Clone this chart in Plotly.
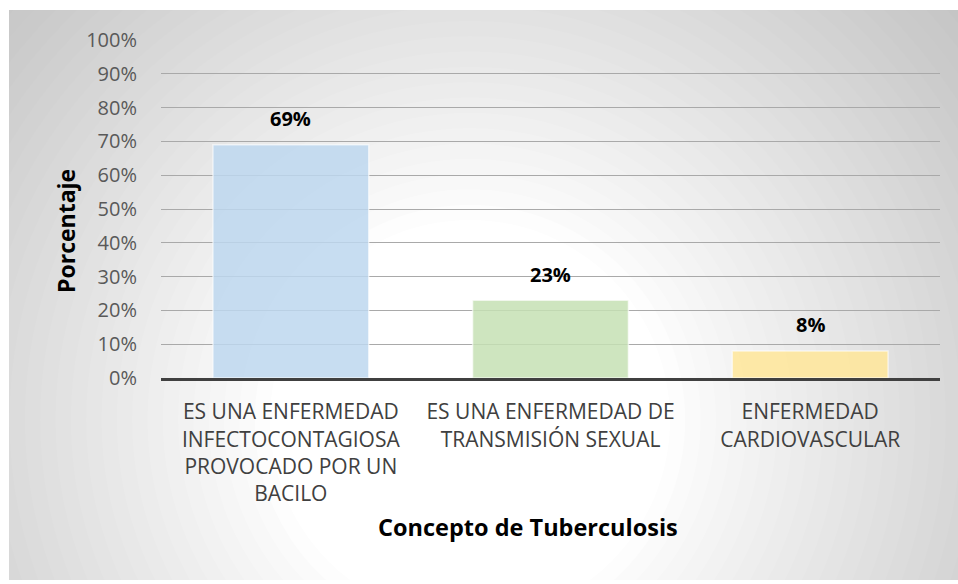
import plotly.graph_objs as go

categorias = [
    'ES UNA ENFERMEDAD<br>INFECTOCONTAGIOSA<br>PROVOCADO POR UN<br>BACILO',
    'ES UNA ENFERMEDAD DE<br>TRANSMISIÓN SEXUAL',
    'ENFERMEDAD<br>CARDIOVASCULAR',
]
porcentajes = [0.69, 0.23, 0.08]
etiquetas = ['69%', '23%', '8%']
colores = ['rgba(189,215,238,0.85)', 'rgba(197,224,180,0.85)', 'rgba(255,230,153,0.85)']

titulo_x = 'Concepto de Tuberculosis'
titulo_y = 'Porcentaje'

# a few px short of the window height so the page never needs a scrollbar
W, H = 958, 580
L, R, T, B = 161, 18, 40, 202
FONT = 'Open Sans'


def px(x):
    # screen pixel -> paper
    return (x - L) / (W - L - R)


def py(y):
    return (H - B - y) / (H - T - B)


def _fondo():
    # gray box with a rough radial light spot (stacked white circles)
    shapes = [dict(
        type='rect', xref='paper', yref='paper', layer='below',
        x0=px(9), x1=px(960), y0=py(582), y1=py(10),
        fillcolor='rgb(195,195,195)', line_width=0
    )]
    cx, cy = px(470), py(420)
    n = 30
    r_out, r_in = 660, 200
    g_out, g_in = 195.0, 255.0
    prev = g_out
    for k in range(1, n + 1):
        r = r_out - (r_out - r_in) * k / n
        g = g_out + (g_in - g_out) * k / n
        a = (g - prev) / (255.0 - prev) if prev < 255 else 0
        prev = g
        shapes.append(dict(
            type='circle', layer='below', xref='paper', yref='paper',
            xsizemode='pixel', ysizemode='pixel',
            xanchor=cx, yanchor=cy, x0=-r, x1=r, y0=-r, y1=r,
            fillcolor='white', opacity=min(a, 1), line_width=0
        ))
    return shapes


fig = go.Figure(
    data=[
        go.Bar(
            x=categorias,
            y=porcentajes,
            marker_color=colores,
            marker_line_color='rgba(255,255,255,0.6)',
            marker_line_width=1.5,
            hoverinfo='skip'
        )
    ]
)

annotations = [
    dict(x=c, y=v, text=f'<b>{t}</b>', xref='x', yref='y', showarrow=False,
         yanchor='middle', yshift=26, font=dict(size=20, color='black', family=FONT))
    for c, v, t in zip(categorias, porcentajes, etiquetas)
]
annotations.append(dict(
    x=px(528), y=py(545), xref='paper', yref='paper', text=f'<b>{titulo_x}</b>',
    showarrow=False, font=dict(size=23.5, color='black', family=FONT)
))
annotations.append(dict(
    x=px(48), y=py(231), xref='paper', yref='paper', text=f'<b>{titulo_y}</b>',
    showarrow=False, textangle=-90, font=dict(size=23, color='black', family=FONT)
))

fig.update_layout(
    width=W, height=H,
    margin=dict(l=L, r=R, t=T, b=B),
    paper_bgcolor='white',
    plot_bgcolor='rgba(0,0,0,0)',
    bargap=0.4,
    showlegend=False,
    font=dict(family=FONT, size=21, color='#595959'),
    shapes=_fondo(),
    annotations=annotations,
    xaxis=dict(
        showline=True, linecolor='#404040', linewidth=3,
        showgrid=False, ticks='', ticklabelstandoff=13,
        tickfont=dict(size=21, color='#404040'),
        automargin=False
    ),
    yaxis=dict(
        range=[0, 1], dtick=0.1, tickformat='.0%',
        showgrid=True, gridcolor='#a9a9a9', gridwidth=1.3,
        zeroline=False, ticks='', ticklabelstandoff=23,
        tickfont=dict(size=20, color='#595959'),
        automargin=False
    )
)

# no body margin and no scrollbars, so the figure fills the window
fig.write_html(
    'out.html',
    config={'displayModeBar': False},
    post_script=(
        "document.body.style.margin='0';"
        "document.documentElement.style.overflow='hidden';"
    )
)
